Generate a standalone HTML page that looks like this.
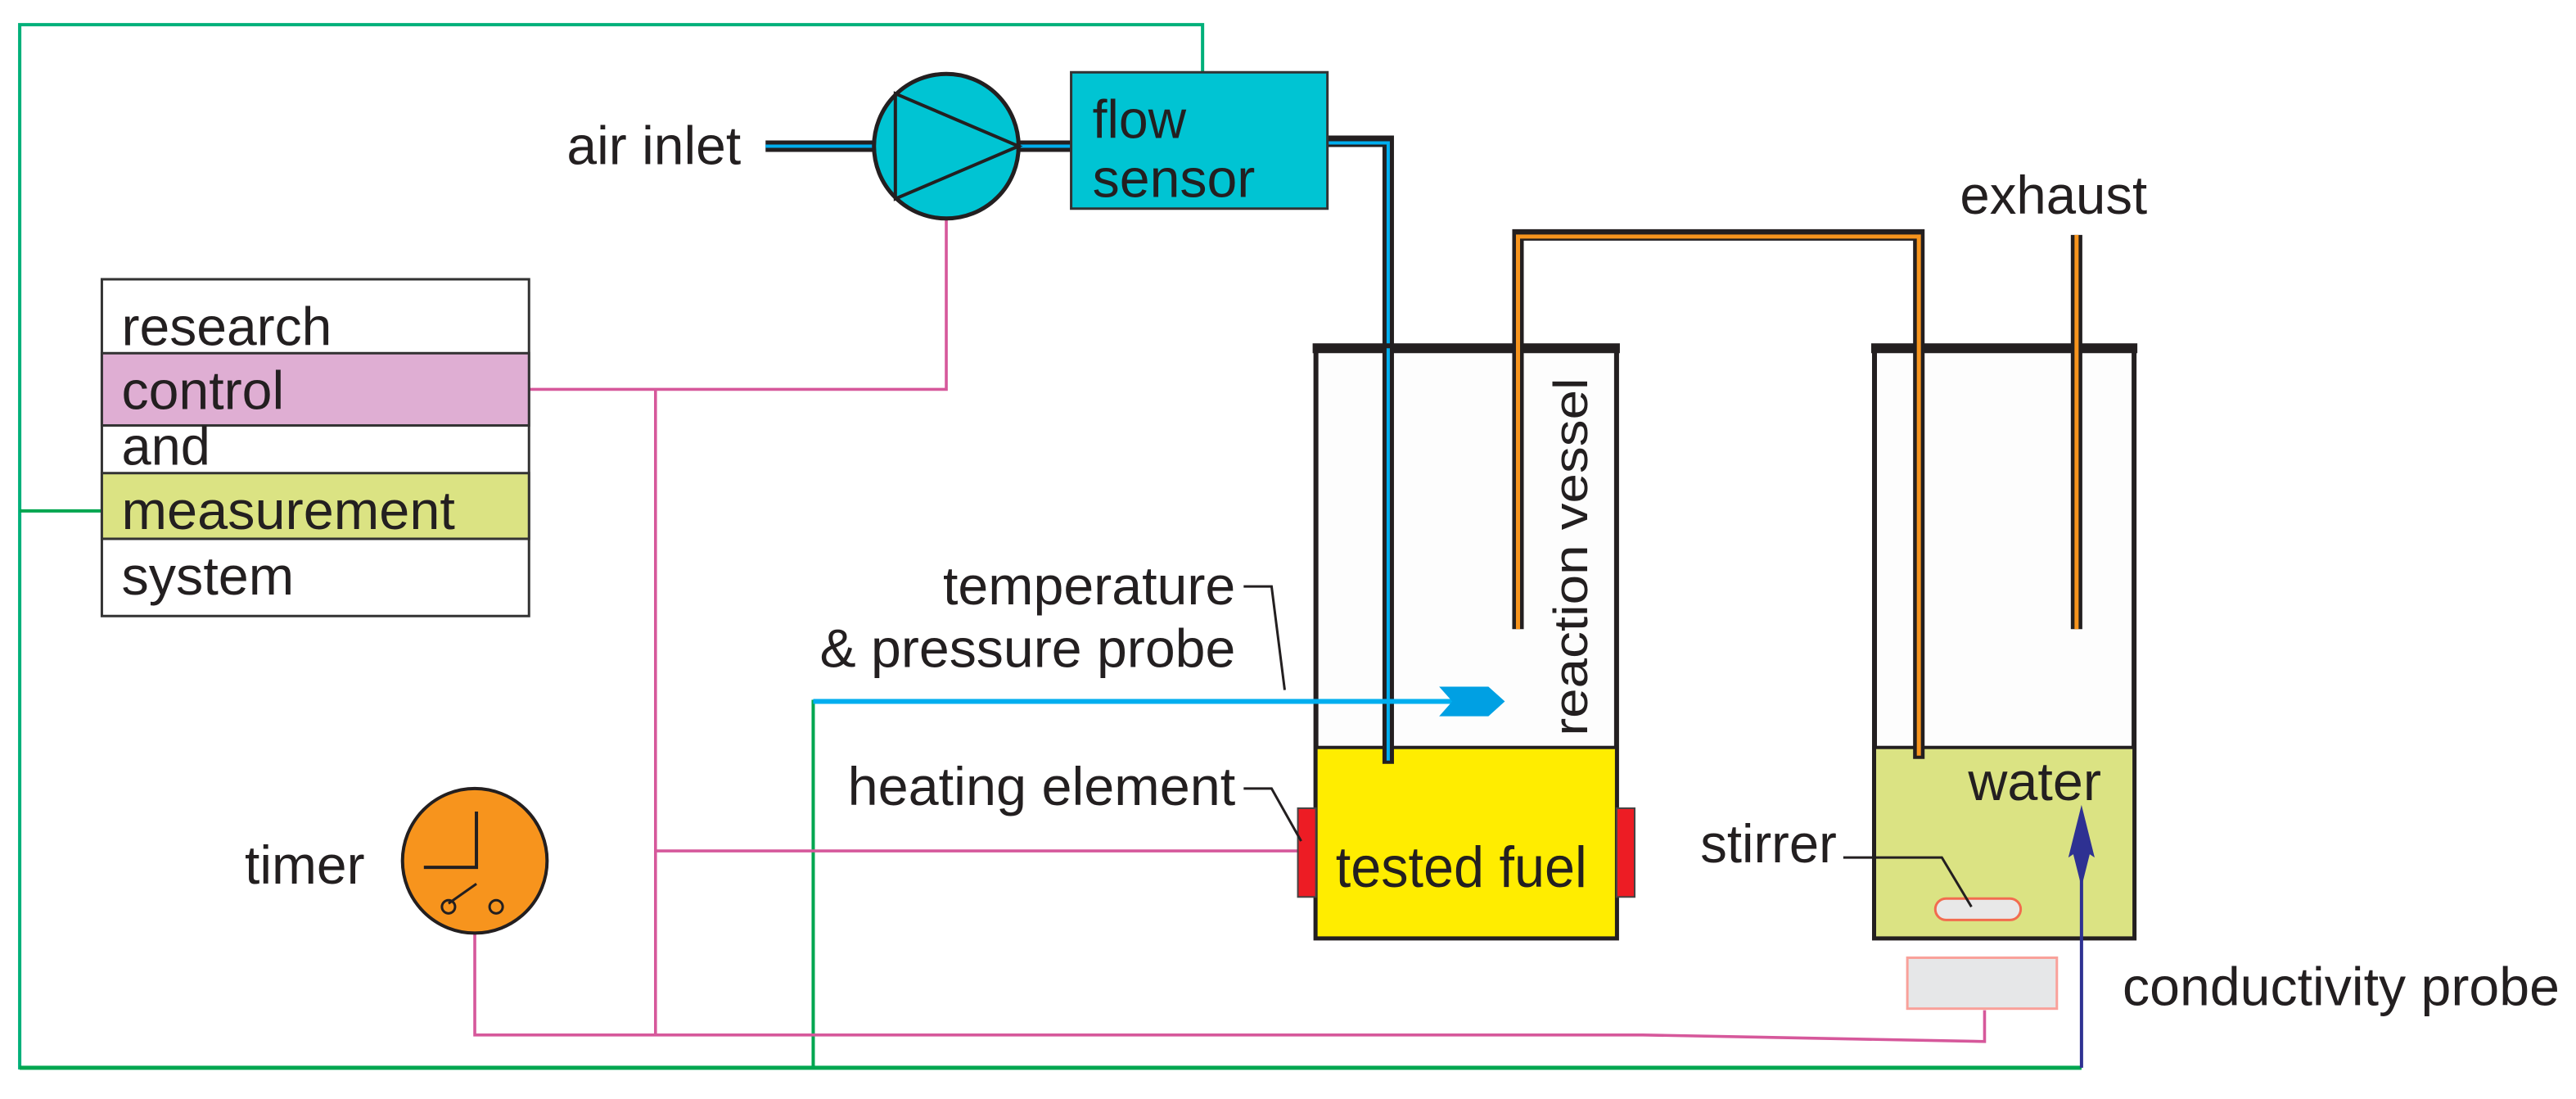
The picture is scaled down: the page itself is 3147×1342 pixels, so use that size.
<!DOCTYPE html>
<html><head><style>html,body{margin:0;padding:0;background:#fff}svg{display:block}</style></head><body>
<svg width="3147" height="1342" viewBox="0 0 1568 669" preserveAspectRatio="none" xmlns="http://www.w3.org/2000/svg" font-family="Liberation Sans, sans-serif" fill="#231f20">
<!-- green lines -->
<polyline points="732,44 732,15 12,15 12,650 1267,650" fill="none" stroke="#00b07a" stroke-width="2"/>
<line x1="12" y1="311" x2="62" y2="311" stroke="#00a650" stroke-width="2"/>
<line x1="12" y1="650" x2="1267" y2="650" stroke="#00a650" stroke-width="2.5"/>
<polyline points="495,650 495,427 520,427" fill="none" stroke="#00a650" stroke-width="2"/>
<!-- pink lines -->
<g fill="none" stroke="#d6589b" stroke-width="1.8">
<polyline points="322,237 576,237 576,134"/>
<line x1="399" y1="237" x2="399" y2="630"/>
<line x1="399" y1="518" x2="790" y2="518"/>
<polyline points="289,568 289,630 1000,630 1208,634 1208,615"/>
</g>
<!-- pipes -->
<g fill="none" stroke="#231f20" stroke-width="7">
<line x1="466" y1="89" x2="535" y2="89"/>
<line x1="618" y1="89" x2="652" y2="89"/>
<polyline points="808,86 845,86 845,465"/>
</g>
<g fill="none" stroke="#00aeef" stroke-width="2">
<line x1="466" y1="89" x2="535" y2="89"/>
<line x1="618" y1="89" x2="652" y2="89"/>
<polyline points="808,87 845,87 845,463"/>
</g>
<!-- pump -->
<circle cx="576" cy="89" r="44" fill="#00c4d3" stroke="#231f20" stroke-width="2.5"/>
<polygon points="545,57 620,89 545,121" fill="none" stroke="#231f20" stroke-width="2"/>
<!-- flow sensor -->
<rect x="652" y="44" width="156" height="83" fill="#00c4d3" stroke="#333" stroke-width="1.5"/>
<g font-size="33" lengthAdjust="spacingAndGlyphs">
<text x="665" y="84" textLength="57" lengthAdjust="spacingAndGlyphs">flow</text>
<text x="665" y="120" textLength="99" lengthAdjust="spacingAndGlyphs">sensor</text>
<text x="345" y="100" textLength="106" lengthAdjust="spacingAndGlyphs">air inlet</text>
</g>
<!-- system box -->
<rect x="62" y="170" width="260" height="205" fill="#fff" stroke="#333" stroke-width="1.5"/>
<rect x="62" y="215" width="260" height="44" fill="#dfaed3" stroke="#333" stroke-width="1.5"/>
<rect x="62" y="288" width="260" height="40" fill="#dbe383" stroke="#333" stroke-width="1.5"/>
<g font-size="33">
<text x="74" y="210" textLength="128" lengthAdjust="spacingAndGlyphs">research</text>
<text x="74" y="249" textLength="99" lengthAdjust="spacingAndGlyphs">control</text>
<text x="74" y="283" textLength="54" lengthAdjust="spacingAndGlyphs">and</text>
<text x="74" y="322" textLength="203" lengthAdjust="spacingAndGlyphs">measurement</text>
<text x="74" y="362" textLength="105" lengthAdjust="spacingAndGlyphs">system</text>
</g>
<!-- vessel 1 -->
<rect x="801" y="212" width="183" height="359" fill="#fdfdfd" stroke="#231f20" stroke-width="3"/>
<rect x="801" y="455" width="183" height="116" fill="#ffed00" stroke="#231f20" stroke-width="2"/>
<line x1="799" y1="212" x2="986" y2="212" stroke="#231f20" stroke-width="6"/>
<rect x="790" y="492" width="11" height="54" fill="#ed1c24" stroke="#444" stroke-width="1"/>
<rect x="984" y="492" width="11" height="54" fill="#ed1c24" stroke="#444" stroke-width="1"/>
<line x1="845" y1="212" x2="845" y2="465" stroke="#231f20" stroke-width="7"/>
<line x1="845" y1="212" x2="845" y2="463" stroke="#00aeef" stroke-width="2"/>
<text x="813" y="540" font-size="35" textLength="153" lengthAdjust="spacingAndGlyphs">tested fuel</text>
<text transform="translate(966,448) rotate(-90)" font-size="29" textLength="218" lengthAdjust="spacingAndGlyphs">reaction vessel</text>
<!-- blue probe -->
<line x1="495" y1="427" x2="885" y2="427" stroke="#00aeef" stroke-width="3"/>
<polygon points="876,418 906,418 916,427 906,436 876,436 884,427" fill="#00a0e3"/>
<!-- vessel 2 -->
<rect x="1141" y="212" width="158" height="359" fill="#fdfdfd" stroke="#231f20" stroke-width="3"/>
<rect x="1141" y="455" width="158" height="116" fill="#dbe383" stroke="#231f20" stroke-width="2"/>
<line x1="1139" y1="212" x2="1301" y2="212" stroke="#231f20" stroke-width="6"/>
<text x="1198" y="487" font-size="33" textLength="81" lengthAdjust="spacingAndGlyphs">water</text>
<rect x="1178" y="547" width="52" height="13" rx="6.5" fill="#e8e8e8" stroke="#f26c4f" stroke-width="1.5"/>
<rect x="1161" y="583" width="91" height="31" fill="#e6e7e8" stroke="#f9a19a" stroke-width="1.5"/>
<!-- orange tubes -->
<g fill="none" stroke="#231f20" stroke-width="7">
<polyline points="924,383 924,143 1168,143 1168,462"/>
<line x1="1264" y1="143" x2="1264" y2="383"/>
</g>
<g fill="none" stroke="#f7941d" stroke-width="2.5">
<polyline points="924,383 924,144 1168,144 1168,460"/>
<line x1="1264" y1="143" x2="1264" y2="383"/>
</g>
<text x="1193" y="130" font-size="33" textLength="114" lengthAdjust="spacingAndGlyphs">exhaust</text>
<!-- purple arrow -->
<line x1="1267" y1="650" x2="1267" y2="515" stroke="#2e3192" stroke-width="2"/>
<polygon points="1267,490 1275,522 1272,520 1267,540 1262,520 1259,522" fill="#2e3192"/>
<!-- timer -->
<circle cx="289" cy="524" r="44" fill="#f7941d" stroke="#231f20" stroke-width="2"/>
<polyline points="290,494 290,528 258,528" fill="none" stroke="#231f20" stroke-width="2"/>
<circle cx="273" cy="552" r="4" fill="none" stroke="#231f20" stroke-width="1.5"/>
<circle cx="302" cy="552" r="4" fill="none" stroke="#231f20" stroke-width="1.5"/>
<line x1="273" y1="550" x2="290" y2="538" stroke="#231f20" stroke-width="1.5"/>
<text x="149" y="538" font-size="33" textLength="73" lengthAdjust="spacingAndGlyphs">timer</text>
<!-- labels with leaders -->
<g font-size="33">
<text x="574" y="368" textLength="178" lengthAdjust="spacingAndGlyphs">temperature</text>
<text x="499" y="406" textLength="253" lengthAdjust="spacingAndGlyphs">&amp; pressure probe</text>
<text x="516" y="490" textLength="236" lengthAdjust="spacingAndGlyphs">heating element</text>
<text x="1035" y="525" textLength="83" lengthAdjust="spacingAndGlyphs">stirrer</text>
<text x="1292" y="612" textLength="266" lengthAdjust="spacingAndGlyphs">conductivity probe</text>
</g>
<polyline points="757,357 774,357 782,420" fill="none" stroke="#231f20" stroke-width="1.5"/>
<polyline points="757,480 774,480 792,512" fill="none" stroke="#231f20" stroke-width="1.5"/>
<polyline points="1122,522 1182,522 1200,552" fill="none" stroke="#231f20" stroke-width="1.5"/>
</svg>
</body></html>
